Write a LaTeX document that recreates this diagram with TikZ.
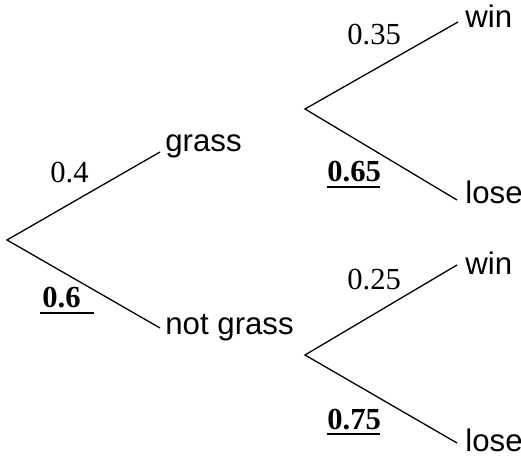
\documentclass[tikz,border=0pt]{standalone}
\usepackage{fontspec}
\setmainfont{Liberation Serif}
\newfontfamily\labelfont{Liberation Sans}
\begin{document}
\begin{tikzpicture}[x=0.5pt,y=-0.5pt,
  branch/.style={line width=0.65pt},
  outcome/.style={anchor=base west,inner sep=0pt,font=\labelfont\fontsize{15.6}{18}\selectfont},
  prob/.style={anchor=base west,inner sep=0pt,font=\fontsize{15.3}{18}\selectfont},
  keyprob/.style={prob,font=\bfseries\fontsize{15.3}{18}\selectfont},
  uline/.style={line width=0.75pt}]
\useasboundingbox (0,0) rectangle (521,458);

% branch points
\coordinate (root) at (7,240);
\coordinate (g) at (160,152);
\coordinate (ng) at (160,328);
\coordinate (r1) at (305,109);
\coordinate (r2) at (305,355);
\coordinate (w1) at (458,22);
\coordinate (l1) at (457,200);
\coordinate (w2) at (457,265);
\coordinate (l2) at (457,443);

% first stage
\draw[branch] (g) -- (root) -- (ng);
% second stage
\draw[branch] (w1) -- (r1) -- (l1);
\draw[branch] (w2) -- (r2) -- (l2);

% outcome labels
\node[outcome] (grass) at (165,152) {grass};
\node[outcome] (notgrass) at (165,335) {not grass};
\node[outcome] (win1) at (465,28) {win};
\node[outcome] (lose1) at (465,204) {lose};
\node[outcome] (win2) at (465,275) {win};
\node[outcome] (lose2) at (465,452) {lose};

% probabilities
\node[prob] (p04) at (50,183) {0.4};
\node[keyprob] (p06) at (42,308) {0.6};
\node[prob] (p035) at (347,45) {0.35};
\node[keyprob] (p065) at (327,182) {0.65};
\node[prob] (p025) at (347,290) {0.25};
\node[keyprob] (p075) at (327,430) {0.75};

% underlines under the given answers
\draw[uline] (40,313) -- (94,313);
\draw[uline] (327,187) -- (380,187);
\draw[uline] (327,434) -- (380,434);
\end{tikzpicture}
\end{document}
